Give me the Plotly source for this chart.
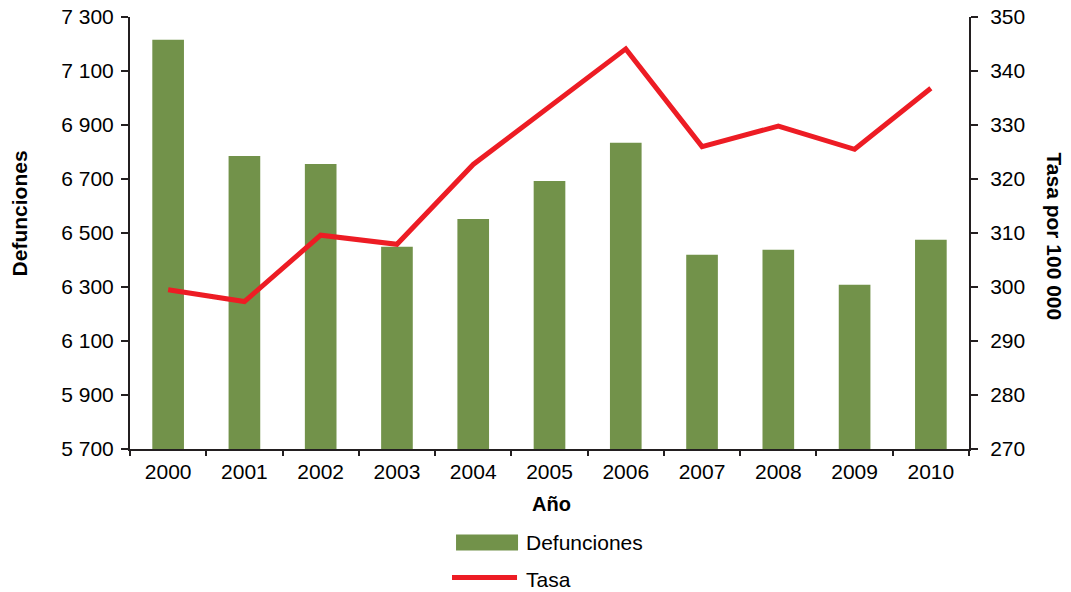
import plotly.graph_objects as go

years = ["2000", "2001", "2002", "2003", "2004", "2005", "2006", "2007", "2008", "2009", "2010"]
defunciones = [7216, 6785, 6756, 6449, 6552, 6693, 6834, 6419, 6438, 6308, 6475]
tasa = [299.5, 297.3, 309.6, 307.9, 322.7, 333.3, 344.1, 326.0, 329.8, 325.5, 336.8]

FONT = "Liberation Sans, Arial, sans-serif"
AX = "#231F20"
GREEN = "#72924A"
RED = "#ED1C24"

fig = go.Figure()
fig.add_trace(go.Bar(x=years, y=defunciones, name="Defunciones", showlegend=False,
                     marker=dict(color=GREEN, line=dict(width=0)), yaxis="y"))
fig.add_trace(go.Scatter(x=years, y=tasa, name="Tasa", mode="lines", showlegend=False,
                         line=dict(color=RED, width=5), yaxis="y2"))

common = dict(showline=True, linecolor=AX, linewidth=2, ticks="outside",
              tickwidth=2, tickcolor=AX, showgrid=False, zeroline=False,
              automargin=False, ticklabeloverflow="allow",
              tickfont=dict(size=21))

fig.update_layout(
    width=1063, height=584,
    margin=dict(l=122, r=102, t=9, b=143, autoexpand=False),
    paper_bgcolor="white", plot_bgcolor="white",
    font=dict(family=FONT, size=21, color="black"),
    separators=", ",
    bargap=0.585,
    showlegend=False,
    xaxis=dict(type="category", tickson="boundaries", ticklen=5,
               ticklabelstandoff=3, **common),
    yaxis=dict(range=[5700, 7300], tick0=5700, dtick=200, tickformat=",d",
               ticklen=7, ticklabelstandoff=3, **common),
    yaxis2=dict(range=[270, 350], tick0=270, dtick=10, overlaying="y", side="right",
                ticklen=7, ticklabelstandoff=8, **common),
    shapes=[
        dict(type="rect", xref="paper", yref="paper",
             x0=0.3886, x1=0.4625, y0=-0.2350, y1=-0.1979,
             fillcolor=GREEN, line=dict(width=0)),
        dict(type="line", xref="paper", yref="paper",
             x0=0.3838, x1=0.4613, y0=-0.2975, y1=-0.2975,
             line=dict(color=RED, width=5)),
    ],
    annotations=[
        dict(text="<b>Defunciones</b>", xref="paper", yref="paper",
             x=-0.1321, y=0.5458, textangle=-90, showarrow=False,
             font=dict(size=21), xanchor="center", yanchor="middle"),
        dict(text="<b>Tasa por 100 000</b>", xref="paper", yref="paper",
             x=1.1025, y=0.4919, textangle=90, showarrow=False,
             font=dict(size=21), xanchor="center", yanchor="middle"),
        dict(text="<b>Año</b>", xref="paper", yref="paper",
             x=0.5018, y=-0.1262, showarrow=False,
             font=dict(size=20), xanchor="center", yanchor="middle"),
        dict(text="Defunciones", xref="paper", yref="paper",
             x=0.4696, y=-0.2164, showarrow=False,
             font=dict(size=21), xanchor="left", yanchor="middle"),
        dict(text="Tasa", xref="paper", yref="paper",
             x=0.4696, y=-0.3021, showarrow=False,
             font=dict(size=21), xanchor="left", yanchor="middle"),
    ],
)

fig.write_html("out.html")
